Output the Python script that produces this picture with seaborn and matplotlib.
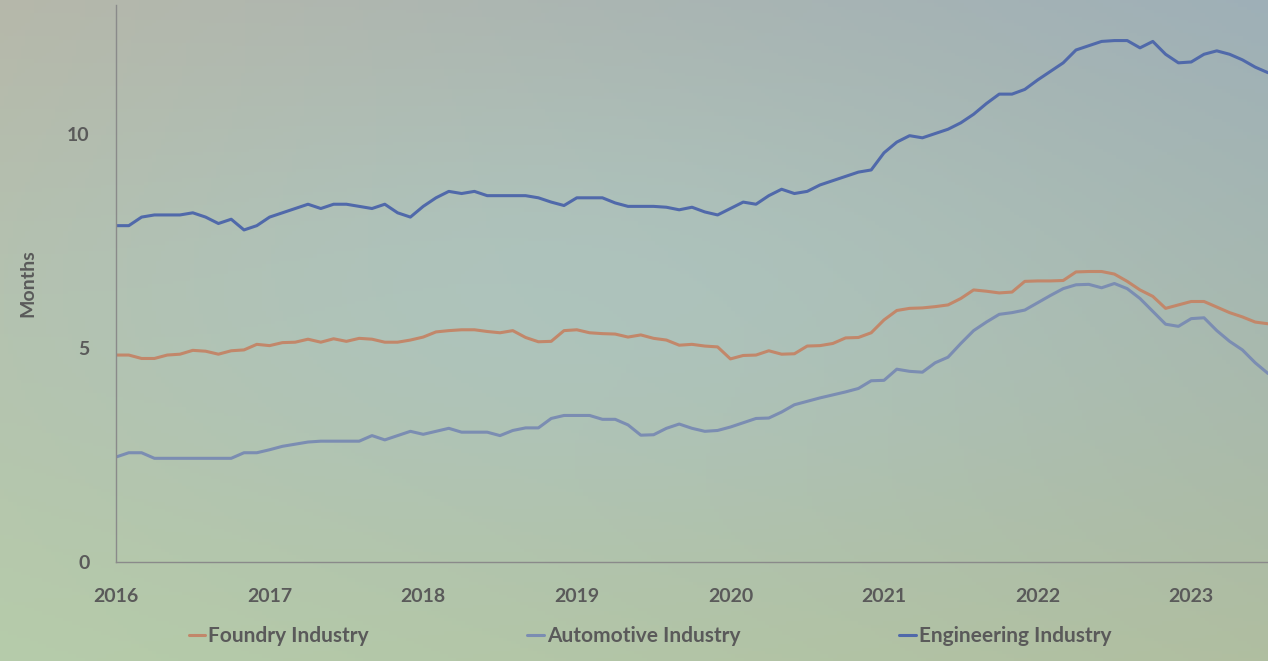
import numpy as np
import pandas as pd
import matplotlib
matplotlib.use("Agg")
import matplotlib.pyplot as plt
import seaborn as sns
from matplotlib.lines import Line2D

# ---- data (monthly, Jan 2016 .. Jul 2023) ----
start_year = 2016
foundry = [4.83, 4.83, 4.75, 4.75, 4.83, 4.85, 4.94, 4.92, 4.85, 4.93, 4.95, 5.08,
           5.05, 5.12, 5.13, 5.20, 5.13, 5.21, 5.15, 5.22, 5.20, 5.13, 5.13, 5.18,
           5.25, 5.37, 5.40, 5.42, 5.42, 5.38, 5.35, 5.40, 5.24, 5.14, 5.15, 5.40,
           5.42, 5.35, 5.33, 5.32, 5.25, 5.30, 5.22, 5.18, 5.06, 5.08, 5.04, 5.02,
           4.74, 4.82, 4.83, 4.93, 4.85, 4.86, 5.04, 5.05, 5.10, 5.23, 5.24, 5.35,
           5.65, 5.87, 5.92, 5.93, 5.96, 6.00, 6.15, 6.35, 6.32, 6.28, 6.30, 6.55,
           6.56, 6.56, 6.57, 6.77, 6.78, 6.78, 6.72, 6.55, 6.35, 6.20, 5.92, 6.00,
           6.08, 6.08, 5.95, 5.82, 5.72, 5.60, 5.56]
automotive = [2.45, 2.55, 2.55, 2.42, 2.42, 2.42, 2.42, 2.42, 2.42, 2.42, 2.55, 2.55,
              2.62, 2.70, 2.75, 2.80, 2.82, 2.82, 2.82, 2.82, 2.95, 2.85, 2.95, 3.05,
              2.98, 3.05, 3.12, 3.03, 3.03, 3.03, 2.95, 3.07, 3.13, 3.13, 3.35, 3.42,
              3.42, 3.42, 3.33, 3.33, 3.20, 2.96, 2.97, 3.12, 3.22, 3.12, 3.05, 3.07,
              3.15, 3.25, 3.35, 3.36, 3.50, 3.67, 3.75, 3.83, 3.90, 3.97, 4.05, 4.23,
              4.24, 4.50, 4.45, 4.43, 4.65, 4.78, 5.10, 5.40, 5.60, 5.78, 5.82, 5.88,
              6.05, 6.22, 6.38, 6.47, 6.48, 6.40, 6.50, 6.38, 6.15, 5.85, 5.55, 5.50,
              5.68, 5.70, 5.40, 5.15, 4.95, 4.65, 4.40]
engineering = [7.85, 7.85, 8.05, 8.10, 8.10, 8.10, 8.15, 8.05, 7.90, 8.00, 7.75, 7.85,
               8.05, 8.15, 8.25, 8.35, 8.25, 8.35, 8.35, 8.30, 8.25, 8.35, 8.15, 8.05,
               8.30, 8.50, 8.65, 8.60, 8.65, 8.55, 8.55, 8.55, 8.55, 8.50, 8.40, 8.32,
               8.50, 8.50, 8.50, 8.38, 8.30, 8.30, 8.30, 8.28, 8.22, 8.28, 8.17, 8.10,
               8.25, 8.40, 8.35, 8.55, 8.70, 8.60, 8.65, 8.80, 8.90, 9.00, 9.10, 9.15,
               9.55, 9.80, 9.95, 9.90, 10.00, 10.10, 10.25, 10.45, 10.70, 10.92, 10.92, 11.03,
               11.25, 11.45, 11.65, 11.95, 12.05, 12.15, 12.17, 12.17, 12.00, 12.15, 11.85, 11.65,
               11.67, 11.85, 11.93, 11.85, 11.72, 11.55, 11.42]
series_names = ["Foundry Industry", "Automotive Industry", "Engineering Industry"]
year_ticks = [2016, 2017, 2018, 2019, 2020, 2021, 2022, 2023]
y_ticks = [0, 5, 10]

n = len(foundry)
t = start_year + np.arange(n) / 12.0
df = pd.concat([
    pd.DataFrame({"year": t, "months": foundry, "series": series_names[0]}),
    pd.DataFrame({"year": t, "months": automotive, "series": series_names[1]}),
    pd.DataFrame({"year": t, "months": engineering, "series": series_names[2]}),
], ignore_index=True)

sns.set_theme(style="white")
plt.rcParams["font.family"] = ["Lato", "DejaVu Sans"]

W, H = 1268, 661
fig = plt.figure(figsize=(W / 100, H / 100), dpi=100)

# background gradient (projected slide look)
bg = fig.add_axes([0, 0, 1, 1], zorder=-10)
tl = np.array([0xb6, 0xb7, 0xa9]) / 255
tr = np.array([0x9e, 0xaf, 0xb7]) / 255
bl = np.array([0xb6, 0xcc, 0xaa]) / 255
br = np.array([0xb0, 0xbe, 0xa0]) / 255
mid = np.array([0xad, 0xc8, 0xc7]) / 255
yy, xx = np.mgrid[0:1:200j, 0:1:300j]
img = ((1 - xx)[..., None] * (1 - yy)[..., None] * tl + xx[..., None] * (1 - yy)[..., None] * tr
       + (1 - xx)[..., None] * yy[..., None] * bl + xx[..., None] * yy[..., None] * br)
w = np.exp(-(((xx - 0.45) / 0.45) ** 2 + ((yy - 0.45) / 0.35) ** 2))[..., None]
img = img * (1 - 0.6 * w) + mid * 0.6 * w
bg.imshow(img, aspect="auto", extent=[0, 1, 0, 1], origin="upper")
bg.axis("off")

ax = fig.add_axes([116 / W, (H - 562) / H, 1 - 116 / W, (562 - 5) / H])
ax.patch.set_alpha(0)
palette = {"Foundry Industry": "#c2876a", "Automotive Industry": "#7b8db2",
           "Engineering Industry": "#5069aa"}
sns.lineplot(data=df, x="year", y="months", hue="series", palette=palette,
             linewidth=2.2, ax=ax, legend=False)

ax.set_xlim(2016, 2023.5)
ax.set_ylim(0, 13)
ax.set_xticks(year_ticks)
ax.set_xticklabels([str(y) for y in year_ticks])
ax.set_yticks(y_ticks)
txt_color = "#5a5a5a"
ax.tick_params(axis="both", colors="#8a8a8a", labelcolor=txt_color, labelsize=14,
               length=5, width=1, direction="out")
ax.tick_params(axis="x", pad=14)
ax.tick_params(axis="y", pad=14)
for lab in ax.get_xticklabels() + ax.get_yticklabels():
    lab.set_fontweight("bold")
for s in ["top", "right"]:
    ax.spines[s].set_visible(False)
for s in ["left", "bottom"]:
    ax.spines[s].set_color("#8a8a8a")
    ax.spines[s].set_linewidth(1.0)
ax.set_xlabel("")
ax.set_ylabel("Months", fontsize=14, color=txt_color, fontweight="bold", labelpad=22)

handles = [Line2D([], [], color=palette[s], lw=2.2) for s in series_names]
leg = fig.legend(handles, series_names, loc="center", bbox_to_anchor=(650 / W, 1 - 636 / H),
                 ncol=3, frameon=False, handlelength=0.8, handletextpad=0.15,
                 columnspacing=7.6, prop={"size": 15, "weight": "bold"})
for tx in leg.get_texts():
    tx.set_color(txt_color)

fig.savefig("out.png", dpi=100)
